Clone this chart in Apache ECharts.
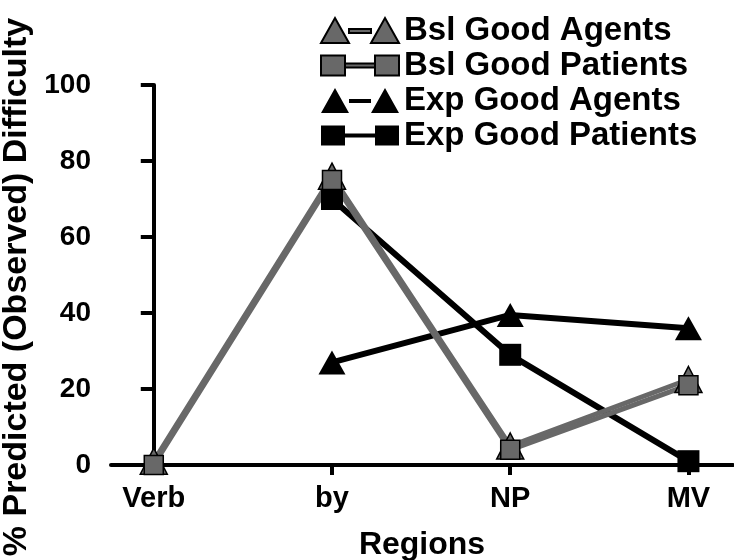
<!DOCTYPE html>
<html><head><meta charset="utf-8">
<script src="https://cdn.jsdelivr.net/npm/echarts@6/dist/echarts.min.js"></script>
<style>html,body{margin:0;padding:0;background:#fff}#c{width:734px;height:560px}</style>
</head><body><div id="c"></div>
<script>
const categories = ['Verb', 'by', 'NP', 'MV'];
const seriesNames = ['Bsl Good Agents', 'Bsl Good Patients', 'Exp Good Agents', 'Exp Good Patients'];
const bslAgents = [1, 76, 5, 22.5];
const bslPatients = [0, 75, 4, 21];
const expAgents = [null, 27, 39.5, 36];
const expPatients = [null, 70, 29, 1];
const yTickValues = [0, 20, 40, 60, 80, 100];

const FONT = '"Liberation Sans", Arial, Helvetica, sans-serif';
const GRAY = '#686868';
const catIdx = categories.map((c, i) => i);
const toPairs = arr => arr.map((v, i) => [i, v]).filter(p => p[1] !== null);

const triIcon = 'path://M0,25 L14,0 L28,25 Z M28,11 L50,11 L50,15 L28,15 Z M50,25 L64,0 L78,25 Z';
const sqIcon = 'path://M0,0 L24,0 L24,20 L0,20 Z M24,8 L54,8 L54,12 L24,12 Z M54,0 L78,0 L78,20 L54,20 Z';

const chart = echarts.init(document.getElementById('c'));
chart.setOption({
  animation: false,
  backgroundColor: '#fff',
  grid: { left: 111, right: 1, top: 85, bottom: 95, containLabel: false, outerBoundsMode: 'none' },
  legend: {
    orient: 'vertical', left: 320, top: 14, padding: 0,
    itemWidth: 78, itemHeight: 25, itemGap: 2, selectedMode: false,
    textStyle: { fontSize: 33, fontWeight: 'bold', color: '#000', fontFamily: FONT },
    data: [
      { name: seriesNames[0], icon: triIcon },
      { name: seriesNames[1], icon: sqIcon },
      { name: seriesNames[2], icon: triIcon },
      { name: seriesNames[3], icon: sqIcon }
    ]
  },
  xAxis: {
    type: 'value', min: -0.24, max: 3.25,
    splitLine: { show: false },
    axisLine: { show: true, onZero: true, lineStyle: { color: '#000', width: 4 } },
    axisTick: { show: true, customValues: catIdx, length: 10, lineStyle: { color: '#000', width: 4 } },
    axisLabel: {
      customValues: catIdx, formatter: v => categories[Math.round(v)],
      margin: 19, fontSize: 29, fontWeight: 'bold', color: '#000', fontFamily: FONT
    },
    name: 'Regions', nameLocation: 'middle', nameGap: 64,
    nameTextStyle: { fontSize: 32, fontWeight: 'bold', color: '#000', fontFamily: FONT }
  },
  yAxis: {
    type: 'value', min: yTickValues[0], max: yTickValues[yTickValues.length - 1], interval: 20,
    splitLine: { show: false },
    axisLine: { show: true, lineStyle: { color: '#000', width: 4 } },
    axisTick: { show: true, length: 13, lineStyle: { color: '#000', width: 4 } },
    axisLabel: { margin: 20, fontSize: 28, fontWeight: 'bold', color: '#000', fontFamily: FONT },
    name: '% Predicted (Observed) Difficulty', nameLocation: 'middle', nameGap: 64,
    nameTextStyle: { fontSize: 34, fontWeight: 'bold', color: '#000', fontFamily: FONT, padding: [0, 24, 0, 0] }
  },
  series: [
    {
      name: seriesNames[2], type: 'line', data: toPairs(expAgents),
      symbol: 'triangle', symbolSize: [27, 24],
      lineStyle: { color: '#000', width: 6 },
      itemStyle: { color: '#000', borderColor: '#000', borderWidth: 0 }
    },
    {
      name: seriesNames[3], type: 'line', data: toPairs(expPatients),
      symbol: 'rect', symbolSize: 22,
      lineStyle: { color: '#000', width: 6 },
      itemStyle: { color: '#000', borderColor: '#000', borderWidth: 0 }
    },
    {
      name: seriesNames[0], type: 'line', data: toPairs(bslAgents),
      symbol: 'triangle', symbolSize: [27, 26],
      lineStyle: { color: GRAY, width: 5 },
      itemStyle: { color: GRAY, borderColor: '#000', borderWidth: 1.5 }
    },
    {
      name: seriesNames[1], type: 'line', data: toPairs(bslPatients),
      symbol: 'rect', symbolSize: 19,
      lineStyle: { color: GRAY, width: 5 },
      itemStyle: { color: GRAY, borderColor: '#000', borderWidth: 1.5 }
    }
  ]
});
</script></body></html>
